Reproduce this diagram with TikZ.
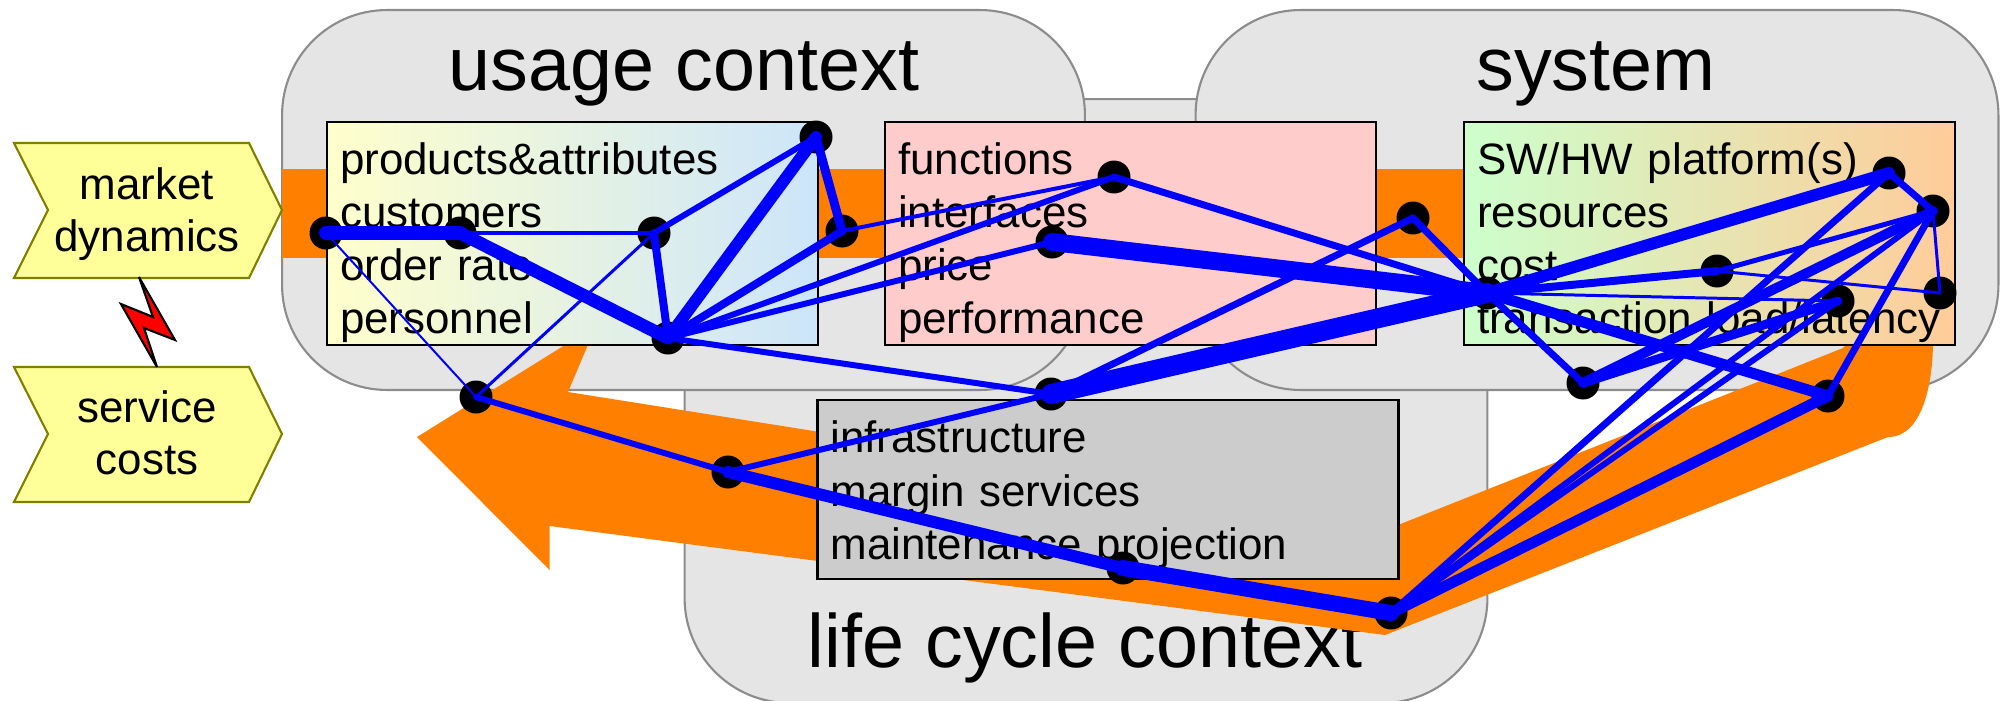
\documentclass[tikz,border=0pt]{standalone}
\usepackage{fontspec}
\setmainfont{Liberation Sans}
\usepackage{tikz}
\usetikzlibrary{positioning}

\definecolor{ctxgray}{HTML}{E5E5E5}
\definecolor{ctxline}{HTML}{8C8C8C}
\definecolor{flow}{HTML}{FF8000}
\definecolor{flagfill}{HTML}{FFFF99}
\definecolor{flagline}{HTML}{808000}
\definecolor{pinkbox}{HTML}{FFCCCC}
\definecolor{graybox}{HTML}{CCCCCC}
\definecolor{needsleft}{HTML}{FFFFCC}
\definecolor{needsright}{HTML}{CCE5FA}
\definecolor{platleft}{HTML}{CCFFCC}
\definecolor{platright}{HTML}{FFCC99}

\newcommand{\listfirst}{\rule{0pt}{28.4pt}}
\newcommand{\lifefirst}{\rule{0pt}{24pt}}

\tikzset{
	ctx/.style={draw=ctxline, fill=ctxgray, line width=1.2pt, rounded corners=2.1cm, minimum width=16.06cm, inner sep=0pt},
	title/.style={anchor=base, font=\fontsize{43}{50}\selectfont},
	listbox/.style={draw=black, line width=1.3pt, minimum height=4.46cm, inner sep=0pt, align=left, font=\fontsize{25}{30.2}\selectfont},
	flag/.style={draw=flagline, fill=flagfill, line width=1.2pt},
	flagtext/.style={align=center, font=\fontsize{25}{29.3}\selectfont},
	dot/.style={circle, fill=black, minimum size=0.66cm, inner sep=0pt},
	link/.style={draw=blue, line width=#1*0.567pt, line cap=round}
}

\begin{document}
\begin{tikzpicture}[x=0.02cm, y=-0.02cm]
	\useasboundingbox (0, 0) rectangle (2004, 700);
	% context areas
	\node[ctx, minimum height=12.08cm] (life) at (1086, 401) {};
	\node[ctx, minimum height=7.6cm] (usage) at (683.5, 200) {};
	\node[ctx, minimum height=7.6cm] (system) at (1597, 200) {};
	\node[title] (usagetitle) at (684, 90) {usage context};
	\node[title] (systemtitle) at (1596, 90) {system};
	\node[title] (lifetitle) at (1085, 667) {life cycle context};
	% orange flows
	\fill[flow] (282, 169) rectangle (1500, 258);
	\fill[flow] (1843, 348) -- (1850, 340) -- (1933, 340) .. controls (1933, 385) and (1922, 437) .. (1888, 437)
		-- (1385, 635) -- (549.5, 526) -- (549.5, 570) -- (417, 437) -- (573, 340) -- (590, 340)
		-- (568, 392) -- (820, 432) -- (1398, 525) -- cycle;
	% flags and lightning
	\draw[flag] (14, 143) -- (249, 143) -- (282, 210) -- (249, 278) -- (14, 278) -- (48, 210) -- cycle;
	\draw[flag] (14, 367) -- (249, 367) -- (282, 434) -- (249, 502) -- (14, 502) -- (48, 434) -- cycle;
	\node[flagtext] (market) at (147, 214) {market\\dynamics};
	\node[flagtext] (costs) at (147, 433) {service\\costs};
	\draw[fill=red, line width=1.2pt] (139, 277) -- (153, 317) -- (121, 304) -- (157, 367) -- (144, 328) -- (175, 340) -- cycle;
	% lists
	\node[listbox, minimum width=9.82cm, text width=9.3cm, left color=needsleft, right color=needsright] (needs) at (572.5, 233.5) {\listfirst products\&attributes\\customers\\order rate\\personnel};
	\node[listbox, minimum width=9.82cm, text width=9.3cm, fill=pinkbox] (product) at (1130.5, 233.5) {\listfirst functions\\interfaces\\price\\performance};
	\node[listbox, minimum width=9.82cm, text width=9.3cm, left color=platleft, right color=platright] (platform) at (1709.5, 233.5) {\listfirst SW/HW platform(s)\\resources\\cost\\transaction load/latency};
	\node[listbox, minimum width=11.62cm, minimum height=3.58cm, text width=11.1cm, fill=graybox] (lifelist) at (1108, 489.5) {\lifefirst infrastructure\\margin services\\maintenance projection};
	% dots
	\node[dot] (d1) at (326, 233) {};
	\node[dot] (d2) at (460, 233) {};
	\node[dot] (d3) at (654, 233) {};
	\node[dot] (d4) at (668, 338) {};
	\node[dot] (d5) at (816, 137) {};
	\node[dot] (d6) at (842, 231) {};
	\node[dot] (d7) at (476, 397) {};
	\node[dot] (d8) at (1114, 177) {};
	\node[dot] (d9) at (1052, 242) {};
	\node[dot] (d10) at (1413, 218) {};
	\node[dot] (d11) at (1487, 293) {};
	\node[dot] (d12) at (1889, 173) {};
	\node[dot] (d13) at (1933, 211) {};
	\node[dot] (d14) at (1717, 271) {};
	\node[dot] (d15) at (1940, 293) {};
	\node[dot] (d16) at (1838, 301) {};
	\node[dot] (d17) at (1583, 383) {};
	\node[dot] (d18) at (1828, 396) {};
	\node[dot] (d19) at (1051, 394) {};
	\node[dot] (d20) at (728, 472) {};
	\node[dot] (d21) at (1123, 568) {};
	\node[dot] (d22) at (1391, 613) {};
	% blue relations
	\draw	(d1.center) edge[link=14] (d2.center)
			(d1.center) edge[link=2] (d7.center)
			(d2.center) edge[link=4] (d3.center)
			(d2.center) edge[link=13] (d4.center)
			(d3.center) edge[link=8] (d4.center)
			(d3.center) edge[link=6] (d5.center)
			(d3.center) edge[link=3] (d7.center)
			(d4.center) edge[link=12] (d5.center)
			(d4.center) edge[link=8] (d6.center)
			(d5.center) edge[link=9] (d6.center)
			(d4.center) edge[link=6] (d8.center)
			(d4.center) edge[link=6] (d9.center)
			(d6.center) edge[link=4] (d8.center)
			(d4.center) edge[link=6] (d19.center)
			(d7.center) edge[link=6] (d20.center)
			(d20.center) edge[link=6] (d19.center)
			(d20.center) edge[link=12] (d21.center)
			(d21.center) edge[link=16] (d22.center);
	\draw	(d8.center) edge[link=7] (d11.center)
			(d9.center) edge[link=18] (d11.center)
			(d10.center) edge[link=7] (d11.center)
			(d10.center) edge[link=7] (d19.center)
			(d19.center) edge[link=20] (d11.center)
			(d11.center) edge[link=12] (d12.center)
			(d11.center) edge[link=8] (d14.center)
			(d11.center) edge[link=3] (d16.center)
			(d11.center) edge[link=7] (d17.center)
			(d11.center) edge[link=11] (d18.center)
			(d12.center) edge[link=7] (d13.center)
			(d13.center) edge[link=5] (d14.center)
			(d14.center) edge[link=3] (d15.center)
			(d13.center) edge[link=3] (d15.center)
			(d17.center) edge[link=9] (d16.center)
			(d17.center) edge[link=10] (d13.center)
			(d18.center) edge[link=7] (d13.center)
			(d22.center) edge[link=7] (d12.center)
			(d22.center) edge[link=6] (d13.center)
			(d22.center) edge[link=6] (d16.center)
			(d22.center) edge[link=11] (d18.center);
\end{tikzpicture}
\end{document}
